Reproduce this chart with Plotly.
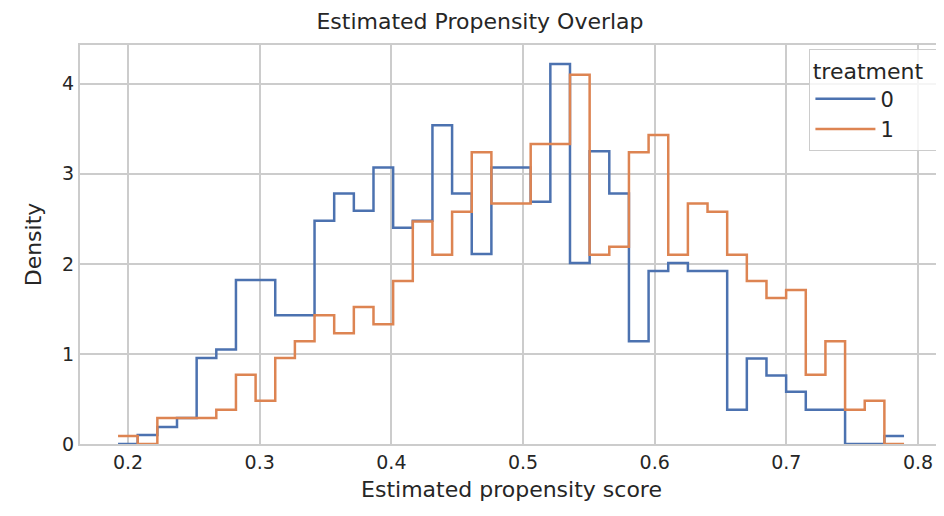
import numpy as np
import plotly.graph_objects as go

bin_start = 0.1924
bin_width = 0.014925
treatment_0 = [0, 0.10, 0.19, 0.29, 0.955, 1.05, 1.82, 1.82, 1.43, 1.43,
               2.48, 2.78, 2.59, 3.07, 2.40, 2.48, 3.54, 2.78, 2.11, 3.07,
               3.07, 2.69, 4.22, 2.01, 3.25, 2.78, 1.14, 1.92, 2.01, 1.92,
               1.92, 0.38, 0.95, 0.76, 0.58, 0.38, 0.38, 0, 0, 0.09]
treatment_1 = [0.09, 0, 0.29, 0.29, 0.29, 0.38, 0.77, 0.48, 0.955, 1.14,
               1.43, 1.23, 1.52, 1.33, 1.81, 2.47, 2.10, 2.58, 3.24, 2.67,
               2.67, 3.33, 3.33, 4.10, 2.10, 2.19, 3.24, 3.43, 2.10, 2.67,
               2.58, 2.10, 1.81, 1.62, 1.71, 0.77, 1.14, 0.38, 0.48, 0]

edges = bin_start + bin_width * np.arange(len(treatment_0) + 1)

fig = go.Figure()
for name, vals, color in [("0", treatment_0, "#4c72b0"), ("1", treatment_1, "#dd8452")]:
    fig.add_trace(go.Scatter(
        x=edges, y=list(vals) + [vals[-1]], mode="lines", name=name,
        line=dict(color=color, width=2.5, shape="hv")))

axis_style = dict(showgrid=True, gridcolor="#cccccc", gridwidth=1.5,
                  showline=True, linecolor="#cccccc", linewidth=2, mirror=True,
                  zeroline=False, ticks="", automargin=False,
                  tickfont=dict(size=19, color="#262626"))

fig.update_layout(
    width=944, height=516,
    font=dict(family="DejaVu Sans", color="#262626"),
    title=dict(text="Estimated Propensity Overlap", x=0.5, xanchor="center",
               y=0.99, yanchor="top", font=dict(size=22)),
    paper_bgcolor="white", plot_bgcolor="white",
    margin=dict(l=72, r=9, t=37, b=80),
    xaxis=dict(range=[0.1635, 0.819], tickvals=[0.2, 0.3, 0.4, 0.5, 0.6, 0.7, 0.8],
               ticktext=["0.2", "0.3", "0.4", "0.5", "0.6", "0.7", "0.8"],
               title=dict(text="Estimated propensity score", font=dict(size=22), standoff=10),
               **axis_style),
    yaxis=dict(range=[0, 4.43], tickvals=[0, 1, 2, 3, 4],
               title=dict(text="Density", font=dict(size=22), standoff=14),
               **axis_style),
    legend=dict(title=dict(text="treatment  ", font=dict(size=22), side="top center"),
                font=dict(size=21), x=0.997, y=0.99, xanchor="right", yanchor="top",
                itemwidth=60, tracegroupgap=4,
                bgcolor="rgba(255,255,255,0.8)", bordercolor="#cccccc", borderwidth=1),
)

fig.write_html("out.html")
